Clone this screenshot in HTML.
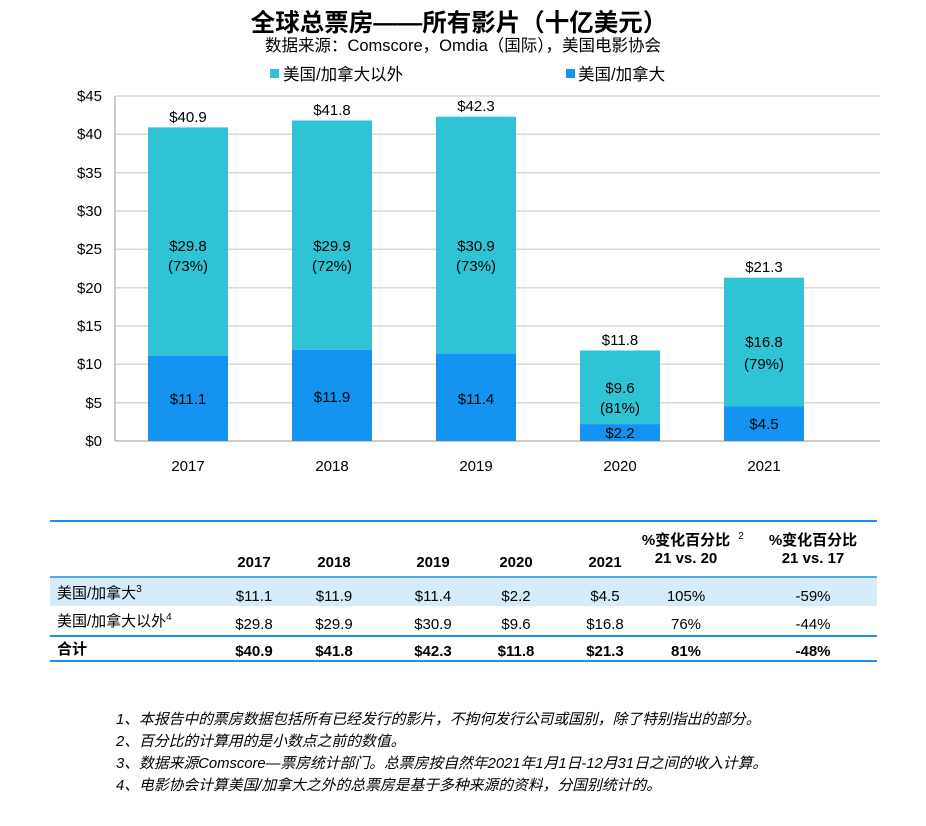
<!DOCTYPE html>
<html><head><meta charset="utf-8"><style>
body{margin:0;background:#fff}
text{font-family:"Liberation Sans","Noto Sans CJK SC",sans-serif;fill:#000}
</style></head><body>
<svg width="926" height="821" viewBox="0 0 926 821" xmlns="http://www.w3.org/2000/svg">
<text x="459" y="31" font-size="24.5" font-weight="bold" text-anchor="middle">全球总票房——所有影片（十亿美元）</text>
<text x="463" y="51" font-size="16.5" text-anchor="middle">数据来源：Comscore，Omdia（国际），美国电影协会</text>
<rect x="270" y="69" width="9" height="9" fill="#2ec4d6"/>
<text x="283" y="80" font-size="16.5">美国/加拿大以外</text>
<rect x="566" y="69" width="9" height="9" fill="#1493f0"/>
<text x="578" y="80" font-size="16.5">美国/加拿大</text>
<g stroke="#d9d9d9" stroke-width="1.5">
<line x1="115" y1="96" x2="880" y2="96"/><line x1="115" y1="134.3" x2="880" y2="134.3"/>
<line x1="115" y1="172.7" x2="880" y2="172.7"/><line x1="115" y1="211" x2="880" y2="211"/>
<line x1="115" y1="249.3" x2="880" y2="249.3"/><line x1="115" y1="287.7" x2="880" y2="287.7"/>
<line x1="115" y1="326" x2="880" y2="326"/><line x1="115" y1="364.3" x2="880" y2="364.3"/>
<line x1="115" y1="402.7" x2="880" y2="402.7"/>
</g>
<line x1="115" y1="96" x2="115" y2="441" stroke="#999"/>
<line x1="115" y1="441" x2="880" y2="441" stroke="#999"/>
<g font-size="15" text-anchor="end">
<text x="102" y="101">$45</text><text x="102" y="139">$40</text><text x="102" y="178">$35</text>
<text x="102" y="216">$30</text><text x="102" y="254">$25</text><text x="102" y="293">$20</text>
<text x="102" y="331">$15</text><text x="102" y="369">$10</text><text x="102" y="408">$5</text>
<text x="102" y="446">$0</text>
</g>
<rect x="148" y="127.4" width="80" height="228.5" fill="#2ec4d6"/><rect x="148" y="355.9" width="80" height="85.1" fill="#1493f0"/>
<rect x="292" y="120.5" width="80" height="229.3" fill="#2ec4d6"/><rect x="292" y="349.8" width="80" height="91.2" fill="#1493f0"/>
<rect x="436" y="116.7" width="80" height="236.9" fill="#2ec4d6"/><rect x="436" y="353.6" width="80" height="87.4" fill="#1493f0"/>
<rect x="580" y="350.5" width="80" height="73.6" fill="#2ec4d6"/><rect x="580" y="424.1" width="80" height="16.9" fill="#1493f0"/>
<rect x="724" y="277.7" width="80" height="128.8" fill="#2ec4d6"/><rect x="724" y="406.5" width="80" height="34.5" fill="#1493f0"/>
<g font-size="15" text-anchor="middle">
<text x="188" y="122">$40.9</text><text x="188" y="251">$29.8</text><text x="188" y="271">(73%)</text><text x="188" y="404">$11.1</text>
<text x="332" y="115">$41.8</text><text x="332" y="251">$29.9</text><text x="332" y="271">(72%)</text><text x="332" y="402">$11.9</text>
<text x="476" y="111">$42.3</text><text x="476" y="251">$30.9</text><text x="476" y="271">(73%)</text><text x="476" y="404">$11.4</text>
<text x="620" y="345">$11.8</text><text x="620" y="393">$9.6</text><text x="620" y="413">(81%)</text><text x="620" y="438">$2.2</text>
<text x="764" y="272">$21.3</text><text x="764" y="347">$16.8</text><text x="764" y="369">(79%)</text><text x="764" y="429">$4.5</text>
<text x="188" y="471">2017</text><text x="332" y="471">2018</text><text x="476" y="471">2019</text><text x="620" y="471">2020</text><text x="764" y="471">2021</text>
</g>
<line x1="50" y1="521" x2="877" y2="521" stroke="#1e90e6" stroke-width="2"/>
<rect x="50" y="577" width="827" height="29" fill="#d7ecfb"/>
<line x1="50" y1="577" x2="877" y2="577" stroke="#1e90e6" stroke-width="1.5"/>
<line x1="50" y1="636" x2="877" y2="636" stroke="#1e90e6" stroke-width="2"/>
<line x1="50" y1="661" x2="877" y2="661" stroke="#1e90e6" stroke-width="2"/>
<g font-size="15" font-weight="bold" text-anchor="middle">
<text x="254" y="567">2017</text><text x="334" y="567">2018</text><text x="433" y="567">2019</text><text x="516" y="567">2020</text><text x="605" y="567">2021</text>
<text x="686" y="545">%变化百分比</text><text x="741" y="539" font-size="10" font-weight="normal">2</text><text x="686" y="563">21 vs. 20</text>
<text x="813" y="545">%变化百分比</text><text x="813" y="563">21 vs. 17</text>
</g>
<g font-size="15">
<text x="57" y="598">美国/加拿大<tspan font-size="10" dy="-6">3</tspan></text>
<text x="57" y="626">美国/加拿大以外<tspan font-size="10" dy="-6">4</tspan></text>
<text x="57" y="654" font-weight="bold">合计</text>
</g>
<g font-size="15" text-anchor="middle">
<text x="254" y="601">$11.1</text><text x="334" y="601">$11.9</text><text x="433" y="601">$11.4</text><text x="516" y="601">$2.2</text><text x="605" y="601">$4.5</text><text x="686" y="601">105%</text><text x="813" y="601">-59%</text>
<text x="254" y="629">$29.8</text><text x="334" y="629">$29.9</text><text x="433" y="629">$30.9</text><text x="516" y="629">$9.6</text><text x="605" y="629">$16.8</text><text x="686" y="629">76%</text><text x="813" y="629">-44%</text>
</g>
<g font-size="15" font-weight="bold" text-anchor="middle">
<text x="254" y="656">$40.9</text><text x="334" y="656">$41.8</text><text x="433" y="656">$42.3</text><text x="516" y="656">$11.8</text><text x="605" y="656">$21.3</text><text x="686" y="656">81%</text><text x="813" y="656">-48%</text>
</g>
<g font-size="14.8" font-style="italic">
<text x="116" y="724">1、本报告中的票房数据包括所有已经发行的影片，不拘何发行公司或国别，除了特别指出的部分。</text>
<text x="116" y="746">2、百分比的计算用的是小数点之前的数值。</text>
<text x="116" y="768">3、数据来源Comscore—票房统计部门。总票房按自然年2021年1月1日-12月31日之间的收入计算。</text>
<text x="116" y="790">4、电影协会计算美国/加拿大之外的总票房是基于多种来源的资料，分国别统计的。</text>
</g>
</svg>
</body></html>
